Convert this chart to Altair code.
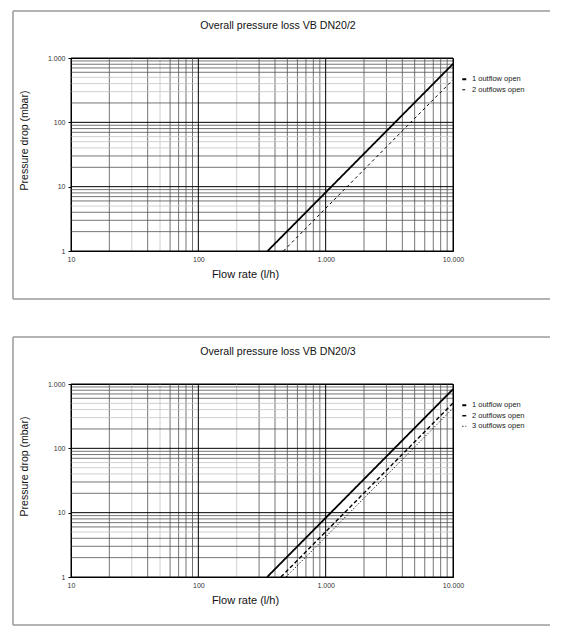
import altair as alt
import pandas as pd

FONT = "Liberation Sans"

# ---- data ----
FLOW_TICKS = [10, 100, 1000, 10000]
DP_TICKS = [1, 10, 100, 1000]
MULT = [2, 3, 4, 5, 6, 7, 8, 9]

top_title = "Overall pressure loss VB DN20/2"
top_series = ["1 outflow open", "2 outflows open"]
top_flow = [[350, 10000], [466, 10000]]
top_dp = [[1, 810], [1, 460]]

bot_title = "Overall pressure loss VB DN20/3"
bot_series = ["1 outflow open", "2 outflows open", "3 outflows open"]
bot_flow = [[347, 10000], [445, 10000], [488, 10000]]
bot_dp = [[1, 830], [1, 505], [1, 420]]

x_light = [30, 50, 200]
y_light = [5, 40, 50, 60, 300, 400, 500]

W, H = 382, 193
LABEL_EXPR = "replace(format(datum.value, ','), ',', '.')"

XAXIS = alt.Axis(
    values=FLOW_TICKS, labelExpr=LABEL_EXPR, ticks=False, labelPadding=4,
    labelFontSize=7, labelFont=FONT, labelColor="#333", labelFlush=False,
    grid=False, domainColor="black",
    title="Flow rate (l/h)", titleFont=FONT, titleFontSize=11,
    titleFontWeight="normal", titleColor="#111", titleX=174, titleY=23,
    titleAlign="center", titleBaseline="middle")
YAXIS = alt.Axis(
    values=DP_TICKS, labelExpr=LABEL_EXPR, tickSize=3, tickColor="black",
    labelPadding=3, labelFontSize=7, labelFont=FONT, labelColor="#333",
    labelFlush=False, grid=False, domainColor="black",
    title="Pressure drop (mbar)", titleFont=FONT, titleFontSize=10.5,
    titleFontWeight="normal", titleColor="#111", titleX=-47, titleY=82,
    titleAngle=270, titleAlign="center", titleBaseline="middle")


def minor_values(ticks):
    out = []
    for t in ticks[:-1]:
        for m in MULT:
            out.append(t * m)
    return out


def panel(title, series, flows, dps, dashes, widths):
    rows = []
    for s, f, d in zip(series, flows, dps):
        for fi, di in zip(f, d):
            rows.append({"series": s, "flow": fi, "dp": di})
    df = pd.DataFrame(rows)

    xs = alt.Scale(type="log", domain=[10, 10000], nice=False)
    ys = alt.Scale(type="log", domain=[1, 1000], nice=False)

    xm = minor_values(FLOW_TICKS)
    ym = minor_values(DP_TICKS)
    xg = pd.DataFrame({"v": xm, "c": ["#c4c4c4" if v in x_light else "#505050" for v in xm]})
    yg = pd.DataFrame({"v": ym, "c": ["#c4c4c4" if v in y_light else "#505050" for v in ym]})
    xmaj = pd.DataFrame({"v": FLOW_TICKS})
    ymaj = pd.DataFrame({"v": DP_TICKS})

    xgrid = alt.Chart(xg).mark_rule(strokeWidth=0.8).encode(
        x=alt.X("v:Q", scale=xs, axis=XAXIS), color=alt.Color("c:N", scale=None))
    ygrid = alt.Chart(yg).mark_rule(strokeWidth=0.8).encode(
        y=alt.Y("v:Q", scale=ys, axis=YAXIS), color=alt.Color("c:N", scale=None))
    xmajor = alt.Chart(xmaj).mark_rule(strokeWidth=1, color="black").encode(
        x=alt.X("v:Q", scale=xs, axis=XAXIS))
    ymajor = alt.Chart(ymaj).mark_rule(strokeWidth=1, color="black").encode(
        y=alt.Y("v:Q", scale=ys, axis=YAXIS))

    lines = alt.Chart(df).mark_line(color="black").encode(
        x=alt.X("flow:Q", scale=xs, axis=XAXIS),
        y=alt.Y("dp:Q", scale=ys, axis=YAXIS),
        strokeDash=alt.StrokeDash("series:N", scale=alt.Scale(domain=series, range=dashes),
                                  legend=alt.Legend(orient="none", legendX=389.5, legendY=17.5,
                                                    title=None, symbolType="stroke", symbolSize=16,
                                                    symbolStrokeWidth=1.8, symbolStrokeColor="black",
                                                    labelFontSize=7.5, labelFont=FONT, labelColor="#222",
                                                    rowPadding=1.5, labelOffset=4, padding=0)),
        strokeWidth=alt.StrokeWidth("series:O", scale=alt.Scale(domain=series, range=widths),
                                    legend=None),
        order="flow:Q",
    )

    one = pd.DataFrame({"a": [0]})
    frame_col = "#9a9a9a"
    ftop = alt.Chart(one).mark_rule(color=frame_col, strokeWidth=1.5).encode(
        x=alt.value(-58), x2=alt.value(479), y=alt.value(-47))
    fleft = alt.Chart(one).mark_rule(color=frame_col, strokeWidth=1.5).encode(
        x=alt.value(-58), y=alt.value(-47), y2=alt.value(241))
    fbot = alt.Chart(one).mark_rule(color=frame_col, strokeWidth=1.5).encode(
        x=alt.value(-58), x2=alt.value(479), y=alt.value(241))
    ttl = alt.Chart(one).mark_text(text=title, font=FONT, fontSize=10.6, color="#111",
                                   align="center", baseline="middle").encode(
        x=alt.value(207), y=alt.value(-32))

    return alt.layer(xgrid, ygrid, xmajor, ymajor, lines, ftop, fleft, fbot, ttl).properties(
        width=W, height=H)


top = panel(top_title, top_series, top_flow, top_dp,
            [[1, 0], [3, 3]], [1.8, 1.0])
bot = panel(bot_title, bot_series, bot_flow, bot_dp,
            [[1, 0], [4, 2.5], [1.2, 2]], [1.8, 1.0, 1.1])

chart = alt.vconcat(top, bot, spacing=34).resolve_scale(
    strokeDash="independent", strokeWidth="independent"
).resolve_legend(strokeDash="independent").properties(
    padding={"left": 3, "top": 1, "right": 0, "bottom": 0},
    background="white",
).configure_view(stroke="black", strokeWidth=1)

chart.save("out.html", embed_options={"renderer": "svg", "actions": False})
